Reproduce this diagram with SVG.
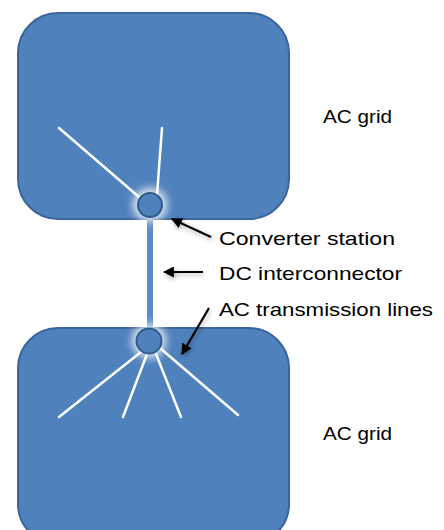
<svg xmlns="http://www.w3.org/2000/svg" width="444" height="530" viewBox="0 0 444 530">
<defs>
<style>
.grid{fill:#4f81bd;stroke:#3a659c;stroke-width:2}
.tl{stroke:#ffffff;stroke-width:2.5;stroke-linecap:round;fill:none}
.st{fill:#4f81bd;stroke:#2f5a8c;stroke-width:2}
.glow{fill:#ffffff;opacity:0.85;filter:url(#blur)}
.arr{stroke:#000;stroke-width:2.2;fill:none;marker-end:url(#ah);filter:url(#shadow)}
.lbl{font-family:"Liberation Sans",Arial,sans-serif;font-size:19px;fill:#000}
</style>
<filter id="blur" x="-1" y="-1" width="3" height="3"><feGaussianBlur stdDeviation="4"/></filter>
<filter id="shadow" filterUnits="userSpaceOnUse" x="0" y="0" width="444" height="530">
<feGaussianBlur in="SourceAlpha" stdDeviation="2.5"/>
<feOffset dx="1" dy="2" result="b"/>
<feComponentTransfer><feFuncA type="linear" slope="0.35"/></feComponentTransfer>
<feMerge><feMergeNode/><feMergeNode in="SourceGraphic"/></feMerge>
</filter>
<marker id="ah" viewBox="0 0 10 10" refX="9" refY="5" markerWidth="5" markerHeight="5" orient="auto" markerUnits="strokeWidth">
<path d="M0,0 L10,5 L0,10 z" fill="#000"/>
</marker>
</defs>
<g id="grid-top">
<rect class="grid" x="18" y="13" width="271" height="206" rx="40" ry="40"/>
<line class="tl" x1="59" y1="128" x2="139" y2="197"/>
<line class="tl" x1="162" y1="128" x2="157" y2="195"/>
</g>
<g id="grid-bottom">
<rect class="grid" x="18" y="328" width="271" height="216" rx="40" ry="40"/>
<line class="tl" x1="141" y1="352" x2="59" y2="417"/>
<line class="tl" x1="147" y1="354" x2="123" y2="417"/>
<line class="tl" x1="156" y1="354" x2="181" y2="417"/>
<line class="tl" x1="160" y1="348" x2="238" y2="415"/>
</g>
<g id="dc-interconnector">
<rect x="147.5" y="216" width="5" height="114" fill="#5b8bcb" stroke="#4a78b5" stroke-width="0.8"/>
</g>
<g id="station-top">
<circle class="glow" cx="150" cy="205" r="17"/>
<circle class="st" cx="150" cy="205" r="12"/>
</g>
<g id="station-bottom">
<circle class="glow" cx="149" cy="341" r="17"/>
<circle class="st" cx="149" cy="341" r="12.5"/>
</g>
<g id="connectors">
<line class="arr" x1="211" y1="237" x2="172" y2="219"/>
<line class="arr" x1="203" y1="272" x2="164" y2="272"/>
<line class="arr" x1="209" y1="308" x2="182" y2="354"/>
</g>
<g id="labels">
<text class="lbl" x="323" y="123" textLength="69" lengthAdjust="spacingAndGlyphs">AC grid</text>
<text class="lbl" x="323" y="440" textLength="69" lengthAdjust="spacingAndGlyphs">AC grid</text>
<text class="lbl" x="219" y="245" textLength="176" lengthAdjust="spacingAndGlyphs">Converter station</text>
<text class="lbl" x="219" y="280" textLength="183" lengthAdjust="spacingAndGlyphs">DC interconnector</text>
<text class="lbl" x="219" y="316" textLength="214" lengthAdjust="spacingAndGlyphs">AC transmission lines</text>
</g>
</svg>
